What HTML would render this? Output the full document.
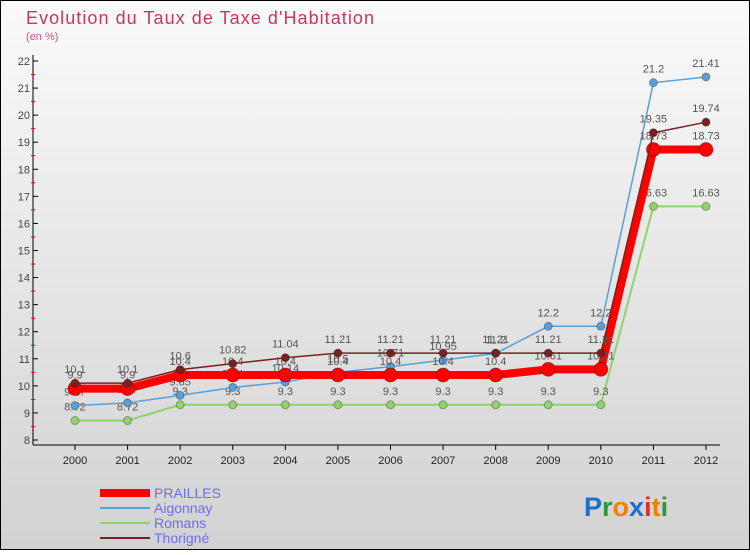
<!DOCTYPE html>
<html><head><meta charset="utf-8"><style>
body{margin:0;width:750px;height:550px;overflow:hidden;font-family:"Liberation Sans",sans-serif}
</style></head><body>
<svg id="c" width="750" height="550" xmlns="http://www.w3.org/2000/svg">
<defs><linearGradient id="bg" x1="0" y1="0" x2="0" y2="1"><stop offset="0" stop-color="#fafafa"/><stop offset="1" stop-color="#d2d2d2"/></linearGradient></defs>
<rect x="0.5" y="0.5" width="749" height="549" fill="url(#bg)" stroke="#000"/>
<text x="26" y="24" font-size="18" fill="#cc3366" textLength="348">Evolution du Taux de Taxe d'Habitation</text>
<text x="26" y="40" font-size="11" fill="#cc5588">(en %)</text>
<g id="axes"></g><g id="series"></g><g id="legend"></g>
<text x="584" y="516" font-size="27" font-weight="bold"><tspan fill="#1a6fd0">P</tspan><tspan fill="#2a9a3a">r</tspan><tspan fill="#f08000">o</tspan><tspan fill="#1a6fd0">x</tspan><tspan fill="#e03020">i</tspan><tspan fill="#f08000">t</tspan><tspan fill="#2a9a3a">i</tspan></text>
</svg>
<script>
const years=[2000,2001,2002,2003,2004,2005,2006,2007,2008,2009,2010,2011,2012];
const prailles=[9.9,9.9,10.4,10.4,10.4,10.4,10.4,10.4,10.4,10.61,10.61,18.73,18.73];
const aigonnay=[9.27,9.37,9.65,9.94,10.14,10.5,10.71,10.95,11.2,12.2,12.2,21.2,21.41];
const romans=[8.72,8.72,9.3,9.3,9.3,9.3,9.3,9.3,9.3,9.3,9.3,16.63,16.63];
const thorigne=[10.1,10.1,10.6,10.82,11.04,11.21,11.21,11.21,11.21,11.21,11.21,19.35,19.74];
const yTicks=[8,9,10,11,12,13,14,15,16,17,18,19,20,21,22];
const NS="http://www.w3.org/2000/svg";
const X=i=>75+i*(706-75)/(years.length-1);
const Y=v=>440-(v-8)*(440-61)/14;
function mk(t,a,p){const e=document.createElementNS(NS,t);for(const k in a)e.setAttribute(k,a[k]);p.appendChild(e);return e;}
const ax=document.getElementById('axes');
const yl=mk('line',{x1:33,y1:55,x2:33,y2:445,stroke:'#000'},ax);


const xl=mk('line',{x1:33,y1:445,x2:720,y2:445,stroke:'#000'},ax);


yTicks.forEach(v=>{
 mk('line',{x1:33,y1:Y(v),x2:38,y2:Y(v),stroke:'#000'},ax);
 if(v<22) mk('line',{x1:31,y1:Y(v+0.5),x2:35,y2:Y(v+0.5),stroke:'#e00'},ax);
 const t=mk('text',{x:30,y:Y(v)+4,'font-size':11,'text-anchor':'end',fill:'#444'},ax);t.textContent=v;
 
 
});
years.forEach((y,i)=>{
 mk('line',{x1:X(i),y1:445,x2:X(i),y2:450,stroke:'#000'},ax);
 const t=mk('text',{x:X(i),y:464,'font-size':11,'text-anchor':'middle',fill:'#222'},ax);t.textContent=y;
 
 
});
const sg=document.getElementById('series');
function draw(vals,color,w,r,name){
 const g=mk('g',{},sg);
 
 
 mk('polyline',{points:vals.map((v,i)=>X(i)+','+Y(v)).join(' '),fill:'none',stroke:color,'stroke-width':w},g);
 vals.forEach((v,i)=>{
  const c=mk('circle',{cx:X(i),cy:Y(v),r:r,fill:color,stroke:'rgba(0,0,0,0.3)','stroke-width':1},g);
  
  
  const t=mk('text',{x:X(i),y:Y(v)-10,'font-size':11,'text-anchor':'middle',fill:'#555'},g);t.textContent=v;
  
  
 });
}
draw(romans,'#8fd46a',2,4,'romans');
draw(aigonnay,'#5aa0d8',1.5,4,'aigonnay');
draw(prailles,'#ff0000',8,7,'prailles');
draw(thorigne,'#7a2020',1.5,4,'thorigne');
const lg=document.getElementById('legend');
[['PRAILLES','#ff0000',8],['Aigonnay','#5aa0d8',2],['Romans','#8fd46a',2],['Thorigné','#7a2020',2]].forEach((d,i)=>{
 const y=493+i*15;
 const g=mk('g',{},lg);
 
 
 mk('line',{x1:100,y1:y,x2:150,y2:y,stroke:d[1],'stroke-width':d[2]},g);
 const t=mk('text',{x:154,y:y+5,'font-size':14,fill:'#6d6df0'},g);t.textContent=d[0];
});
</script>
</body></html>
